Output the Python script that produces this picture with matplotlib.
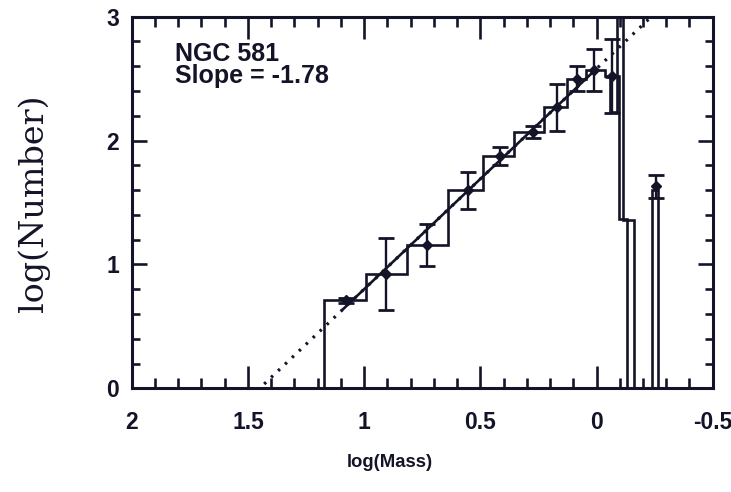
"""Mass function histogram of NGC 581 with power-law fit (log N vs log M)."""

import matplotlib

matplotlib.use("Agg")
import matplotlib.pyplot as plt
import numpy as np
from matplotlib.ticker import MultipleLocator


# main histogram: bin edges in log(Mass), log(Number) per bin
HIST_EDGES = [1.171, 0.993, 0.815, 0.637, 0.488, 0.355, 0.228, 0.128,
              0.047, -0.035, -0.095, -0.13, -0.238, -0.265]
HIST_COUNTS = [0.71, 0.92, 1.16, 1.60, 1.875, 2.07, 2.27, 2.50,
               2.57, 2.52, 1.37, 0.0, 1.60]

# offset histogram, only visible at the low-mass end
TAIL_EDGES = [-0.035, -0.06, -0.088, -0.112, -0.16, -0.17]
TAIL_COUNTS = [2.51, 2.23, 3.3, 1.36, 0.0]

# binned points with errors
PT_MASS = [1.078, 0.907, 0.730, 0.552, 0.417, 0.275, 0.168, 0.083, 0.011, -0.067, -0.256]
PT_NUMBER = [0.71, 0.92, 1.16, 1.60, 1.875, 2.07, 2.27, 2.50, 2.57, 2.52, 1.63]
PT_ERR = [0.02, 0.29, 0.17, 0.15, 0.07, 0.05, 0.19, 0.10, 0.17, 0.30, 0.095]

# fit: log N = INTERCEPT + SLOPE * log M
SLOPE = -1.78
INTERCEPT = 2.58
FIT_RANGE = (1.09, 0.0)        # solid part
EXTRAP_RANGE = (1.43, -0.24)   # dotted extrapolation

X_TICKS = [2, 1.5, 1, 0.5, 0, -0.5]
X_TICK_LABELS = ["2", "1.5", "1", "0.5", "0", "-0.5"]
Y_TICKS = [0, 1, 2, 3]
Y_TICK_LABELS = ["0", "1", "2", "3"]


def main() -> None:
    fig = plt.figure(figsize=(7.31, 4.92), dpi=100)
    ax = fig.add_axes([0.1802, 0.2108, 0.7948, 0.7553])
    ink = "#141428"

    ax.stairs(HIST_COUNTS, HIST_EDGES, baseline=0, color=ink, lw=1.9)
    ax.stairs(TAIL_COUNTS, TAIL_EDGES, baseline=None, color=ink, lw=1.9)

    xs = np.linspace(*EXTRAP_RANGE, 200)
    ax.plot(xs, INTERCEPT + SLOPE * xs, color=ink, lw=2.3, ls=(0, (0.8, 2.2)))
    xs = np.linspace(*FIT_RANGE, 100)
    ax.plot(xs, INTERCEPT + SLOPE * xs, color=ink, lw=1.9)

    ax.errorbar(PT_MASS, PT_NUMBER, yerr=PT_ERR, fmt="D", ms=5, color=ink,
                ecolor=ink, elinewidth=1.7, capsize=5.5, capthick=2)

    ax.set_xlim(2, -0.5)
    ax.set_ylim(0, 3)

    ax.set_xticks(X_TICKS)
    ax.set_xticklabels(X_TICK_LABELS)
    ax.set_yticks(Y_TICKS)
    ax.set_yticklabels(Y_TICK_LABELS)
    ax.xaxis.set_minor_locator(MultipleLocator(0.1))
    ax.yaxis.set_minor_locator(MultipleLocator(0.2))

    ax.tick_params(which="both", direction="in", top=True, right=True,
                   color=ink, width=1.9)
    ax.tick_params(axis="x", which="major", length=16, pad=16)
    ax.tick_params(axis="x", which="minor", length=7.5)
    ax.tick_params(axis="y", which="major", length=11, pad=9)
    ax.tick_params(axis="y", which="minor", length=6)
    for lab in ax.get_xticklabels() + ax.get_yticklabels():
        lab.set_fontfamily("Liberation Sans")
        lab.set_fontweight("bold")
        lab.set_fontsize(16.5)
        lab.set_color(ink)
    for sp in ax.spines.values():
        sp.set_linewidth(2.2)
        sp.set_color(ink)

    ax.set_xlabel("log(Mass)", family="Liberation Sans", fontweight="bold",
                  fontsize=13.3, color=ink)
    ax.xaxis.set_label_coords(0.444, -0.178)
    ax.set_ylabel("log(Number)", family="DejaVu Serif", fontsize=24, color=ink)
    ax.yaxis.set_label_coords(-0.141, 0.499)

    ax.text(0.0746, 0.932, "NGC 581\nSlope = -1.78", transform=ax.transAxes,
            ha="left", va="top", family="Liberation Sans", fontweight="bold",
            fontsize=18, linespacing=0.9, color=ink)

    fig.savefig("out.png", dpi=100)
    plt.close(fig)


if __name__ == "__main__":
    main()
